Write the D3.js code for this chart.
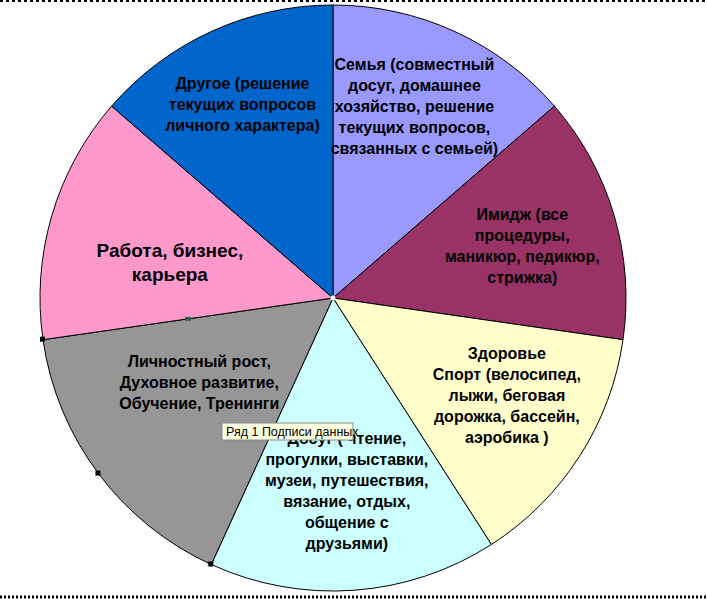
<!DOCTYPE html>
<html>
<head>
<meta charset="utf-8">
<script src="https://cdn.jsdelivr.net/npm/d3@7"></script>
<style>
  html, body { margin: 0; padding: 0; background: #fff; }
  svg { display: block; }
  .lbl { font-family: "Liberation Sans", Arial, sans-serif; font-weight: bold; fill: #000; }
</style>
</head>
<body>
<div id="chart"></div>
<script>
// данные ряда 1
const categories = [
  'Семья (совместный\nдосуг, домашнее\nхозяйство, решение\nтекущих вопросов,\nсвязанных с семьей)',
  'Имидж (все\nпроцедуры,\nманикюр, педикюр,\nстрижка)',
  'Здоровье\nСпорт (велосипед,\nлыжи, беговая\nдорожка, бассейн,\nаэробика )',
  'Досуг ( чтение,\nпрогулки, выставки,\nмузеи, путешествия,\nвязание, отдых,\nобщение с\nдрузьями)',
  'Личностный рост,\nДуховное развитие,\nОбучение, Тренинги',
  'Работа, бизнес,\nкарьера',
  'Другое (решение\nтекущих вопросов\nличного характера)'
];
const values = [3, 3, 3, 3.5, 3.5, 3, 3];
const colors = ['#9999ff', '#993366', '#ffffcc', '#ccffff', '#969696', '#ff99cc', '#0066cc'];

const width = 707, height = 600;
const cx = 333, cy = 298, radius = 293;
// where Excel put each label: fraction of radius and angle shift (deg)
const labelR = [0.71, 0.67, 0.68, 0.66, 0.54, 0.57, 0.73];
const labelShift = [-1.5, 1, -3.5, 0, 4.5, -4, -0.5];
const selected = 4; // slice with the selection handles

const svg = d3.select('#chart').append('svg')
  .attr('width', width)
  .attr('height', height);

// chart area border (dashed, top and bottom)
svg.append('line')
  .attr('x1', 0).attr('x2', width)
  .attr('y1', 1).attr('y2', 1)
  .attr('stroke', '#000')
  .attr('stroke-width', 2)
  .attr('stroke-dasharray', '3,3');
svg.append('line')
  .attr('x1', 0).attr('x2', width)
  .attr('y1', 597).attr('y2', 597)
  .attr('stroke', '#000')
  .attr('stroke-width', 3)
  .attr('stroke-dasharray', '2,2');

const pie = d3.pie().sort(null).value(function(d) { return d; });
const arcs = pie(values);
const arc = d3.arc().innerRadius(0).outerRadius(radius);

const g = svg.append('g').attr('transform', 'translate(' + cx + ',' + cy + ')');

g.selectAll('path.slice')
  .data(arcs)
  .enter()
  .append('path')
    .attr('class', 'slice')
    .attr('d', arc)
    .attr('fill', function(d, i) { return colors[i]; })
    .attr('stroke', '#000')
    .attr('stroke-width', 1);

// data labels
g.selectAll('text.lbl')
  .data(arcs)
  .enter()
  .append('text')
    .attr('class', 'lbl')
    .attr('text-anchor', 'middle')
    .style('font-size', function(d, i) { return i === 5 ? '19px' : '16px'; })
    .each(function(d, i) {
      const lines = categories[i].split('\n');
      const lh = i === 5 ? 24 : 21;
      const a = (d.startAngle + d.endAngle) / 2 + labelShift[i] * Math.PI / 180;
      const r = radius * labelR[i];
      const x = Math.sin(a) * r;
      const y = -Math.cos(a) * r;
      const top = y - (lines.length - 1) * lh / 2;
      const t = d3.select(this);
      lines.forEach(function(line, k) {
        t.append('tspan')
          .attr('x', x)
          .attr('y', top + k * lh)
          .attr('dy', '0.35em')
          .text(line);
      });
    });

// selection handles on the selected slice
const sel = arcs[selected];
const pt = function(a, r) { return [Math.sin(a) * r, -Math.cos(a) * r]; };
const handles = [
  pt(sel.startAngle, radius),
  pt((sel.startAngle + sel.endAngle) / 2, radius),
  pt(sel.endAngle, radius)
];
g.selectAll('rect.handle')
  .data(handles)
  .enter()
  .append('rect')
    .attr('class', 'handle')
    .attr('x', function(d) { return d[0] - 3; })
    .attr('y', function(d) { return d[1] - 3; })
    .attr('width', 5)
    .attr('height', 5)
    .attr('fill', '#000');
const endPt = pt(sel.endAngle, radius / 2);
g.append('rect')
  .attr('x', endPt[0] - 3)
  .attr('y', endPt[1] - 2)
  .attr('width', 6)
  .attr('height', 4)
  .attr('fill', '#2f5f4f');
g.append('circle')
  .attr('r', 2.5)
  .attr('fill', '#fff');

// tooltip
const tip = g.append('g').attr('transform', 'translate(-111,125)');
tip.append('rect')
  .attr('width', 131)
  .attr('height', 17)
  .attr('fill', '#ffffe1')
  .attr('stroke', '#888')
  .attr('stroke-width', 1);
tip.append('text')
  .attr('x', 4)
  .attr('y', 13)
  .style('font-family', '"Liberation Sans", Arial, sans-serif')
  .style('font-size', '12.5px')
  .attr('fill', '#000')
  .text('Ряд 1 Подписи данных');
</script>
</body>
</html>
